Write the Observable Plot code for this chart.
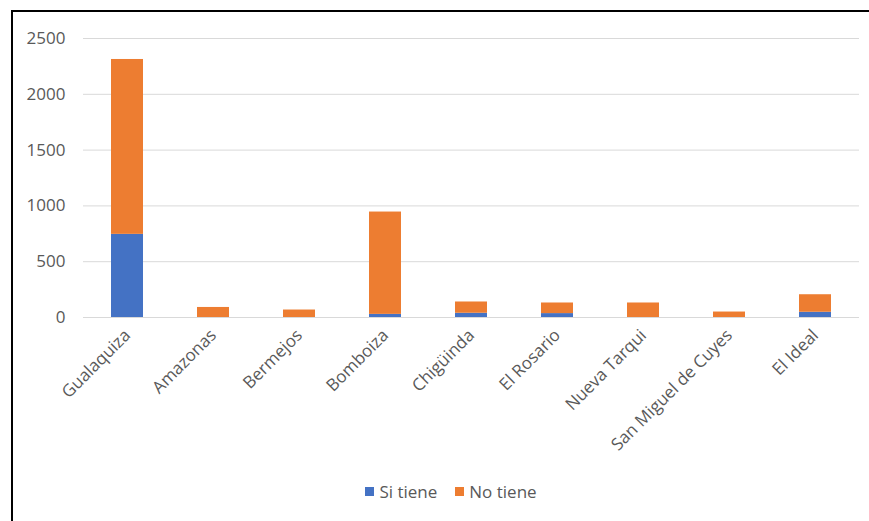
<!DOCTYPE html>
<html>
<head>
<meta charset="utf-8">
<script src="https://cdn.jsdelivr.net/npm/d3@7"></script>
<script src="https://cdn.jsdelivr.net/npm/@observablehq/plot@0.6"></script>
<style>
  html, body { margin: 0; padding: 0; background: #fff; }
  body { width: 869px; height: 521px; position: relative; overflow: hidden;
         font-family: "Open Sans", "Liberation Sans", sans-serif; }
  #frame { position: absolute; left: 11px; top: 10px; width: 870px; height: 540px;
           border-top: 2px solid #000; border-left: 2px solid #000; box-sizing: border-box; }
  #chart { position: absolute; left: 0; top: 0; }
  #legend { position: absolute; top: 480px; left: 0; width: 869px; display: flex;
            justify-content: center; gap: 18px; font-size: 17px; color: #595959;
            padding-left: 33px; box-sizing: border-box; }
  .item { display: flex; align-items: center; gap: 5px; }
  .sw { width: 9px; height: 9px; display: inline-block; }
</style>
</head>
<body>
<div id="frame"></div>
<div id="chart"></div>
<div id="legend"></div>
<script>
const categories = ["Gualaquiza", "Amazonas", "Bermejos", "Bomboiza", "Chigüinda", "El Rosario", "Nueva Tarqui", "San Miguel de Cuyes", "El Ideal"];
const siTiene = [745, 0, 0, 28, 38, 35, 0, 0, 47];
const noTiene = [1567, 90, 67, 917, 101, 95, 130, 49, 157];
const seriesNames = ["Si tiene", "No tiene"];
const seriesColors = ["#4472C4", "#ED7D31"];
const yTicks = [0, 500, 1000, 1500, 2000, 2500];

const rows = [];
categories.forEach((c, i) => rows.push({cat: c, series: seriesNames[0], value: siTiene[i]}));
categories.forEach((c, i) => rows.push({cat: c, series: seriesNames[1], value: noTiene[i]}));

const chart = Plot.plot({
  width: 869,
  height: 470,
  marginLeft: 83,
  marginRight: 10,
  marginTop: 38,
  marginBottom: 153,
  style: { fontFamily: "'Open Sans', 'Liberation Sans', sans-serif", fontSize: "17px", color: "#595959", background: "transparent" },
  x: { domain: categories, paddingInner: 0.63, paddingOuter: 0.315, label: null },
  y: { domain: [0, 2500], label: null },
  color: { domain: seriesNames, range: seriesColors },
  marks: [
    Plot.gridY(yTicks, { stroke: "#d9d9d9", strokeOpacity: 1, strokeWidth: 1 }),
    Plot.axisY({ ticks: yTicks, tickFormat: d => String(d), tickSize: 0, tickPadding: 18, label: null, fontSize: 17 }),
    Plot.barY(rows, Plot.stackY({ x: "cat", y: "value", fill: "series", order: null })),
    Plot.axisX({ tickSize: 0, tickRotate: -45, tickPadding: 15, label: null, fontSize: 17 })
  ]
});
document.getElementById("chart").appendChild(chart);

const legend = document.getElementById("legend");
seriesNames.forEach((n, i) => {
  const it = document.createElement("span");
  it.className = "item";
  it.innerHTML = `<span class="sw" style="background:${seriesColors[i]}"></span>${n}`;
  legend.appendChild(it);
});
</script>
</body>
</html>
